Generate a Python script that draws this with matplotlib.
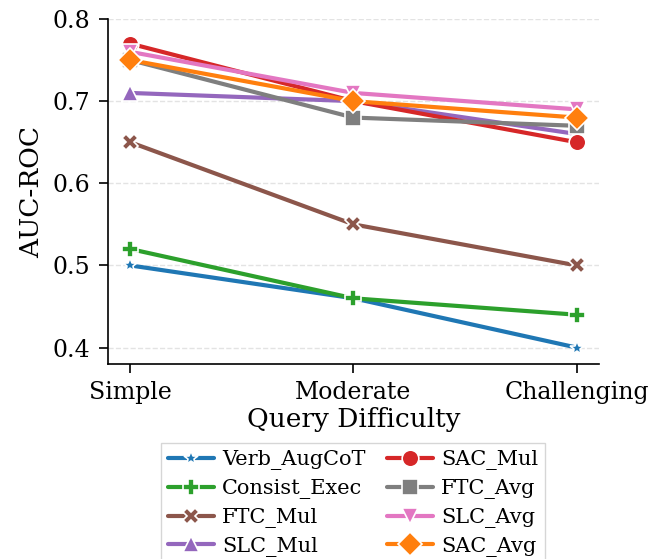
import matplotlib
matplotlib.use("Agg")
import matplotlib.pyplot as plt
import seaborn as sns

sns.set_style("ticks")
plt.rcParams["font.family"] = ["DejaVu Serif"]
plt.rcParams.update({"text.color": "black", "axes.labelcolor": "black",
                     "xtick.color": "black", "ytick.color": "black",
                     "axes.edgecolor": "black"})

difficulty = ["Simple", "Moderate", "Challenging"]
methods = ["Verb_AugCoT", "Consist_Exec", "FTC_Mul", "SLC_Mul",
           "SAC_Mul", "FTC_Avg", "SLC_Avg", "SAC_Avg"]
auc = {
    "Verb_AugCoT": [0.50, 0.46, 0.40],
    "Consist_Exec": [0.52, 0.46, 0.44],
    "FTC_Mul": [0.65, 0.55, 0.50],
    "SLC_Mul": [0.71, 0.70, 0.66],
    "SAC_Mul": [0.77, 0.70, 0.65],
    "FTC_Avg": [0.75, 0.68, 0.67],
    "SLC_Avg": [0.76, 0.71, 0.69],
    "SAC_Avg": [0.75, 0.70, 0.68],
}
markers = ["*", "P", "X", "^", "o", "s", "v", "D"]
colors = ["#1f77b4", "#2ca02c", "#8c564b", "#9467bd",
          "#d62728", "#7f7f7f", "#e377c2", "#ff7f0e"]

fig = plt.figure(figsize=(6.6, 5.59), dpi=100)
ax = fig.add_axes([0.1636, 0.3488, 0.744, 0.6172])

x = list(range(len(difficulty)))
for name, m, c in zip(methods, markers, colors):
    ms = 10 if m == "*" else 12
    ax.plot(x, auc[name], marker=m, color=c, lw=3, ms=ms,
            mec="white", mew=1.2, label=name)

ax.set_xlim(-0.1, 2.1)
ax.set_ylim(0.38, 0.80)
ax.set_xticks(x)
ax.set_xticklabels(difficulty)
ax.set_yticks([0.4, 0.5, 0.6, 0.7, 0.8])
ax.tick_params(labelsize=17, length=6.5, width=1.2, pad=6)
ax.set_xlabel("Query Difficulty", fontsize=19, labelpad=2)
ax.set_ylabel("AUC-ROC", fontsize=19, labelpad=6)
ax.yaxis.grid(True, ls="--", color="#e3e3e3", lw=1)
for s in ["left", "bottom"]:
    ax.spines[s].set_linewidth(1.2)
sns.despine(ax=ax)

fig.legend(loc="upper center", bbox_to_anchor=(0.535, 1 - 443 / 559), ncol=2,
           fontsize=15, frameon=True, fancybox=False, edgecolor="#cccccc",
           handlelength=2.2, columnspacing=1.0, labelspacing=0.42,
           borderpad=0.35, handletextpad=0.4, borderaxespad=0)

fig.savefig("out.png", dpi=100)
